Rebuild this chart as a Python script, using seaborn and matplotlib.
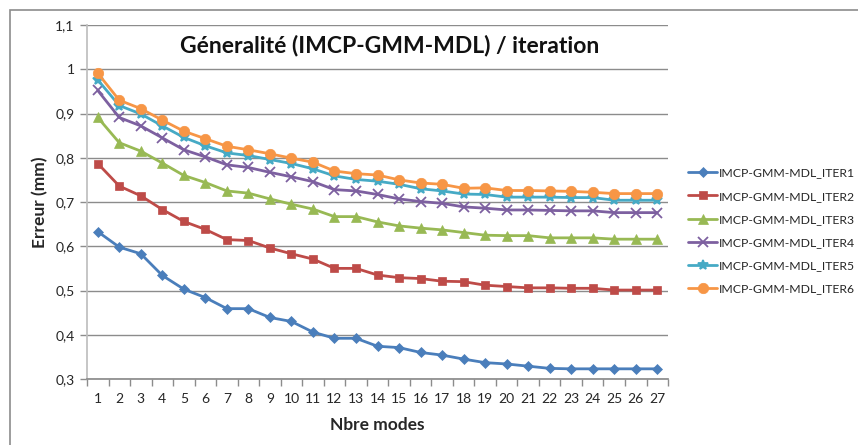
import matplotlib
matplotlib.use("Agg")
import matplotlib.pyplot as plt
import matplotlib.patches as mpatches
import numpy as np
import pandas as pd
import seaborn as sns
from matplotlib.ticker import FixedLocator, FuncFormatter

modes = list(range(1, 28))

iter1 = [0.633, 0.598, 0.583, 0.534, 0.503, 0.484, 0.459, 0.459, 0.439, 0.430,
         0.406, 0.392, 0.392, 0.374, 0.371, 0.360, 0.354, 0.345, 0.337, 0.334,
         0.329, 0.324, 0.323, 0.323, 0.323, 0.323, 0.323]
iter2 = [0.787, 0.736, 0.714, 0.683, 0.656, 0.638, 0.615, 0.613, 0.596, 0.583,
         0.571, 0.550, 0.550, 0.535, 0.529, 0.527, 0.521, 0.520, 0.512, 0.509,
         0.506, 0.506, 0.505, 0.505, 0.501, 0.501, 0.501]
iter3 = [0.891, 0.834, 0.815, 0.788, 0.760, 0.744, 0.725, 0.720, 0.707, 0.695,
         0.684, 0.667, 0.667, 0.655, 0.646, 0.641, 0.637, 0.631, 0.625, 0.624,
         0.624, 0.619, 0.619, 0.619, 0.616, 0.616, 0.616]
iter4 = [0.952, 0.891, 0.872, 0.845, 0.818, 0.802, 0.784, 0.778, 0.767, 0.757,
         0.746, 0.728, 0.725, 0.717, 0.707, 0.701, 0.697, 0.689, 0.686, 0.682,
         0.682, 0.681, 0.680, 0.680, 0.676, 0.676, 0.676]
iter5 = [0.976, 0.918, 0.899, 0.872, 0.846, 0.827, 0.811, 0.805, 0.796, 0.787,
         0.775, 0.759, 0.751, 0.747, 0.740, 0.730, 0.725, 0.718, 0.717, 0.711,
         0.711, 0.711, 0.710, 0.710, 0.704, 0.704, 0.704]
iter6 = [0.991, 0.930, 0.911, 0.885, 0.860, 0.843, 0.826, 0.818, 0.809, 0.799,
         0.790, 0.770, 0.764, 0.761, 0.750, 0.743, 0.740, 0.731, 0.732, 0.726,
         0.726, 0.725, 0.724, 0.722, 0.719, 0.719, 0.719]

series_names = ["IMCP-GMM-MDL_ITER1", "IMCP-GMM-MDL_ITER2", "IMCP-GMM-MDL_ITER3",
                "IMCP-GMM-MDL_ITER4", "IMCP-GMM-MDL_ITER5", "IMCP-GMM-MDL_ITER6"]
series_values = [iter1, iter2, iter3, iter4, iter5, iter6]
y_ticks = [0.3, 0.4, 0.5, 0.6, 0.7, 0.8, 0.9, 1.0, 1.1]

colors = ["#4A7EBB", "#BE4B48", "#98B954", "#7D60A0", "#46AAC5", "#F79646"]
markers = ["D", "s", "^", "x", "*", "o"]
msizes = [5.0, 6.3, 6.8, 6.5, 7.0, 7.5]

sns.set_theme(style="white")
plt.rcParams["font.family"] = ["Lato", "DejaVu Sans"]

fig = plt.figure(figsize=(8.58, 4.45), dpi=100)
ax = fig.add_axes([0.1014, 0.1483, 0.6772, 0.7955])

# chart border (only top and left visible in the reference)
fig.add_artist(mpatches.Rectangle((10 / 858, -0.1), 1.2, 1 - 10 / 445 + 0.1,
                                  transform=fig.transFigure, fill=False,
                                  edgecolor="#8c8c8c", linewidth=1.2))

for name, vals, c, m, ms in zip(series_names, series_values, colors, markers, msizes):
    df = pd.DataFrame({"mode": modes, "err": vals})
    sns.lineplot(data=df, x="mode", y="err", ax=ax, color=c, marker=m,
                 markersize=ms, markeredgecolor=c, markerfacecolor=c,
                 markeredgewidth=1.3 if m in ("x", "*") else 0.5,
                 linewidth=2.0, label=name)

ax.set_xlim(0.5, 27.5)
ax.set_ylim(0.3, 1.1)
ax.set_yticks(y_ticks)
ax.yaxis.set_major_formatter(FuncFormatter(lambda v, p: f"{v:g}".replace(".", ",")))
ax.set_xticks(modes)
ax.xaxis.set_minor_locator(FixedLocator(np.arange(0.5, 28, 1)))
ax.tick_params(axis="x", which="major", length=0, labelsize=10, colors="#262626", pad=10)
ax.tick_params(axis="x", which="minor", length=5, width=1, color="#8c8c8c", direction="out", bottom=True)
ax.tick_params(axis="y", length=5, width=1, color="#8c8c8c", direction="out", left=True,
               labelsize=10, colors="#262626", pad=4)
ax.grid(axis="y", color="#8c8c8c", linewidth=1)
ax.set_axisbelow(True)
for s in ["top", "right"]:
    ax.spines[s].set_visible(False)
ax.spines["left"].set_color("#bfbfbf")
ax.spines["bottom"].set_color("#8c8c8c")

ax.set_xlabel("Nbre modes", fontsize=12.5, fontweight="bold", labelpad=9)
ax.set_ylabel("Erreur (mm)", fontsize=12.5, fontweight="bold", labelpad=5)
fig.text(390 / 858, 1 - 46 / 445, "Géneralité (IMCP-GMM-MDL) / iteration",
         ha="center", va="center", fontsize=16.5, fontweight="bold", color="#111111")

leg = ax.legend(loc="center left", bbox_to_anchor=(688 / 858, 1 - 231 / 445),
                bbox_transform=fig.transFigure, frameon=False,
                fontsize=8.8, handlelength=2.4, handletextpad=0.1,
                labelspacing=1.0, borderaxespad=0, borderpad=0)

fig.savefig("out.png", dpi=100)
